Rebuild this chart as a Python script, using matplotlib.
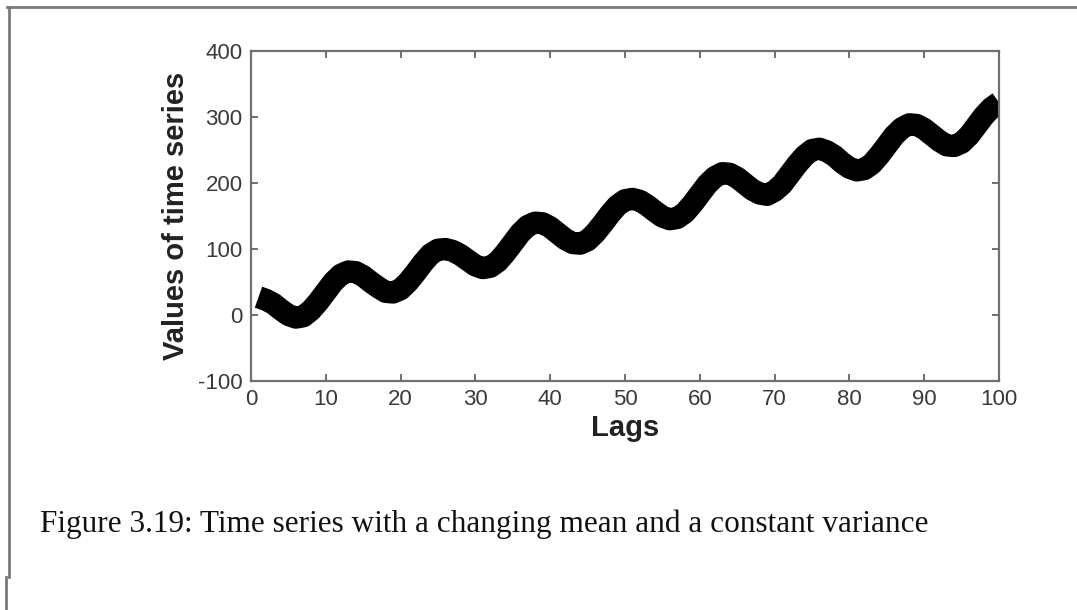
"""
Figure 3.19: time series with a changing mean and a constant variance
MATLAB-style thick black line, caption below
"""

import matplotlib
matplotlib.use('Agg')
import matplotlib.pyplot as plt
from matplotlib.lines import Line2D

plt.rcParams['axes.unicode_minus'] = False

# Values (lag 1..100)
lags = list(range(1, 101))
values = [27, 23, 17, 8, 0, -4, -2, 7, 20, 35,
          50, 61, 66, 65, 59, 50, 42, 35, 34, 39,
          50, 64, 79, 92, 99, 100, 97, 91, 83, 75,
          71, 73, 81, 94, 109, 124, 135, 140, 139, 133,
          124, 115, 109, 108, 113, 124, 138, 153, 166, 174,
          176, 173, 166, 157, 149, 145, 147, 155, 168, 183,
          198, 209, 215, 214, 208, 199, 190, 184, 182, 188,
          198, 213, 228, 241, 250, 252, 248, 241, 231, 223,
          219, 221, 229, 242, 257, 272, 283, 289, 288, 282,
          273, 264, 257, 256, 261, 272, 287, 302, 314, 322]

x_ticks = [0, 10, 20, 30, 40, 50, 60, 70, 80, 90, 100]
y_ticks = [-100, 0, 100, 200, 300, 400]
caption = 'Figure 3.19: Time series with a changing mean and a constant variance'

W, H = 1077, 610
fig = plt.figure(figsize=(W / 100, H / 100), dpi=100)
fig.patch.set_facecolor('white')

ax = fig.add_axes([251 / W, 1 - 381 / H, (999 - 251) / W, (381 - 51) / H])
ax.plot(lags, values, color='black', linewidth=16, solid_capstyle='butt',
        solid_joinstyle='round')

ax.set_xlim(0, 100)
ax.set_ylim(-100, 400)
ax.set_xticks(x_ticks)
ax.set_yticks(y_ticks)

grey = '#707070'
for s in ax.spines.values():
    s.set_color(grey)
    s.set_linewidth(1.6)
ax.tick_params(direction='in', length=5, width=1.4, color=grey,
               top=True, right=True, labelsize=16, labelcolor='#3a3a3a', pad=6)
for lab in ax.get_xticklabels() + ax.get_yticklabels():
    lab.set_family('Liberation Sans')

ax.set_xlabel('Lags', fontsize=21, fontweight='bold', color='#222222',
              family='Liberation Sans', labelpad=3)
ax.set_ylabel('Values of time series', fontsize=21, fontweight='bold',
              color='#222222', family='Liberation Sans', labelpad=6)

# caption
fig.text(40 / W, 1 - 524 / H, caption, fontsize=22.5, family='Liberation Serif',
         color='#111111', ha='left', va='center')

# page frame (top and left edge of the scanned page)
frame = '#7a7a7a'
fig.add_artist(Line2D([7 / W, 1], [1 - 7 / H, 1 - 7 / H], color=frame,
                      linewidth=2, transform=fig.transFigure))
fig.add_artist(Line2D([9 / W, 9 / W], [1 - 7 / H, 1 - 577 / H], color=frame,
                      linewidth=2, transform=fig.transFigure))
fig.add_artist(Line2D([6 / W, 6 / W], [1 - 577 / H, 0], color=frame,
                      linewidth=2, transform=fig.transFigure))

fig.savefig('out.png', dpi=100, facecolor='white')
plt.close(fig)
